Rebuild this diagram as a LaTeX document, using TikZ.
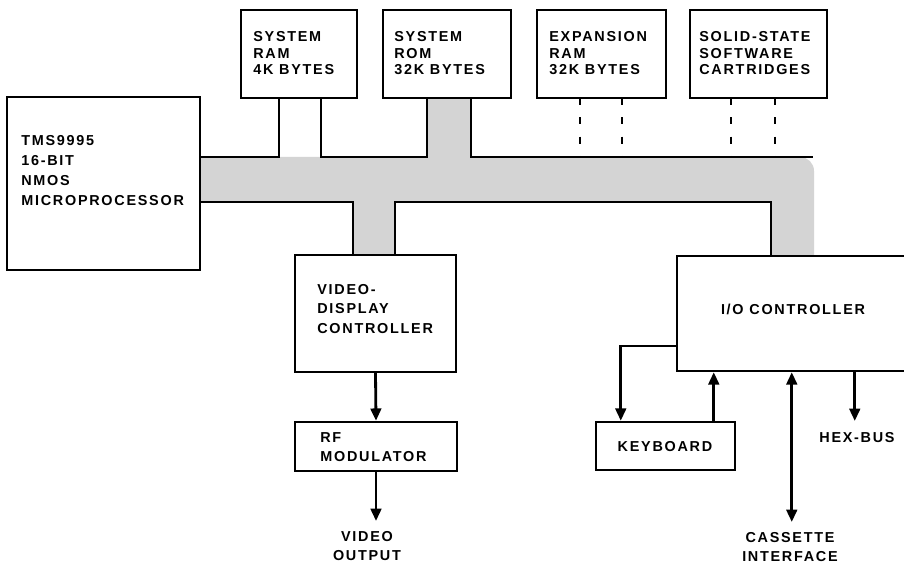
\documentclass[tikz,border=0pt]{standalone}
\usepackage{fontspec}
\setmainfont{Liberation Sans}[LetterSpace=12]
\usetikzlibrary{arrows.meta,fit,calc}
\begin{document}
\begin{tikzpicture}[x=0.02cm,y=-0.02cm,
  box/.style={draw,line width=1.4pt,inner sep=0pt},
  ln/.style={line width=1.6pt},
  dsh/.style={line width=1.6pt,dash pattern=on 4pt off 7pt},
  arr/.style={line width=1.6pt,-{Triangle[width=6pt,length=7pt]}},
  darr/.style={line width=1.6pt,{Triangle[width=6pt,length=7pt]}-{Triangle[width=6pt,length=7pt]}},
  lbl/.style={inner sep=0pt,align=left,font=\fontsize{8.2}{11.3}\selectfont\bfseries},
  clbl/.style={inner sep=0pt,align=center,font=\fontsize{8.2}{10.8}\selectfont\bfseries},
  busfill/.style={fill=black!17,draw=none}]
\clip (0,0) rectangle (904,567);
\fill[white] (0,0) rectangle (904,567);
% grey bus
\path[busfill] (200,157) -- (427,157) -- (427,98) -- (471,98) -- (471,157)
  -- (800,157) arc[start angle=90,end angle=0,x radius=14,y radius=-14] -- (814,256)
  -- (771,256) -- (771,202) -- (395,202) -- (395,255) -- (353,255) -- (353,202)
  -- (200,202) -- cycle;
% boxes
\node[box,fit={(7,97)(200,270)}] (cpu) {};
\node[box,fit={(241,10)(357,98)}] (ram) {};
\node[box,fit={(383,10)(511,98)}] (rom) {};
\node[box,fit={(537,10)(666,98)}] (exp) {};
\node[box,fit={(690,10)(827,98)}] (cart) {};
\node[box,fit={(295,255)(456,372)}] (vdc) {};
\node[box,fit={(295,422)(457,471)}] (rf) {};
\node[box,fit={(677,256)(940,371)}] (io) {};
\node[box,fit={(596,422)(735,470)}] (kbd) {};
% texts
\node[lbl,anchor=west] (cputxt) at (21,170.5) {TMS9995\\16-BIT\\NMOS\\MICROPROCESSOR};
\node[lbl,anchor=west,font=\fontsize{8.2}{9.4}\selectfont\bfseries] (ramtxt) at (253,53.5) {SYSTEM\\RAM\\4K BYTES};
\node[lbl,anchor=west,font=\fontsize{8.2}{9.4}\selectfont\bfseries] (romtxt) at (394,53.5) {SYSTEM\\ROM\\32K BYTES};
\node[lbl,anchor=west,font=\fontsize{8.2}{9.4}\selectfont\bfseries] (exptxt) at (549,53.5) {EXPANSION\\RAM\\32K BYTES};
\node[lbl,anchor=west,font=\fontsize{8.2}{9.4}\selectfont\bfseries] (carttxt) at (699,53.5) {SOLID-STATE\\SOFTWARE\\CARTRIDGES};
\node[lbl,anchor=west,font=\fontsize{8.2}{11.05}\selectfont\bfseries] (vdctxt) at (317,309) {VIDEO-\\DISPLAY\\CONTROLLER};
\node[lbl,anchor=west,font=\fontsize{8.2}{10.8}\selectfont\bfseries] (rftxt) at (320,447.5) {RF\\MODULATOR};
\node[lbl] (iotxt) at (793,309) {I/O CONTROLLER};
\node[lbl] (kbdtxt) at (665,447) {KEYBOARD};
\node[clbl] (vout) at (367,546) {VIDEO\\OUTPUT};
\node[clbl] (cas) at (790,547) {CASSETTE\\INTERFACE};
\node[lbl] (hex) at (857,438) {HEX-BUS};
% bus lines
\draw[ln] (cpu.north east |- 0,157) -- (279,157) -- (279,98);
\draw[ln] (321,98) -- (321,157) -- (427,157) -- (427,98);
\draw[ln] (471,98) -- (471,157) -- (813,157);
\draw[ln] (cpu.north east |- 0,202) -- (353,202) -- (353,255);
\draw[ln] (395,255) -- (395,202) -- (771,202) -- (771,256);
\draw[dsh] (580,98) -- (580,157);
\draw[dsh] (622,98) -- (622,157);
\draw[dsh] (731,98) -- (731,157);
\draw[dsh] (775,98) -- (775,157);
% connectors
\draw[arr] (vdc.south) -- (rf.north);
\coordinate (voutEnd) at (rf.south |- 0,521);
\draw[arr] (rf.south) -- (voutEnd);
\coordinate (kbdA) at ($(kbd.north west)+(26,0)$);
\coordinate (kbdB) at ($(kbd.north west)+(119,0)$);
\draw[arr] (io.west |- 0,346) -| (kbdA);
\draw[arr] (kbdB) -- (kbdB |- io.south);
\coordinate (casA) at ($(io.south west)+(116,0)$);
\coordinate (casEnd) at (casA |- 0,522);
\draw[darr] (casA) -- (casEnd);
\coordinate (hexA) at ($(io.south west)+(179,0)$);
\coordinate (hexEnd) at (hexA |- 0,421);
\draw[arr] (hexA) -- (hexEnd);
\end{tikzpicture}
\end{document}
